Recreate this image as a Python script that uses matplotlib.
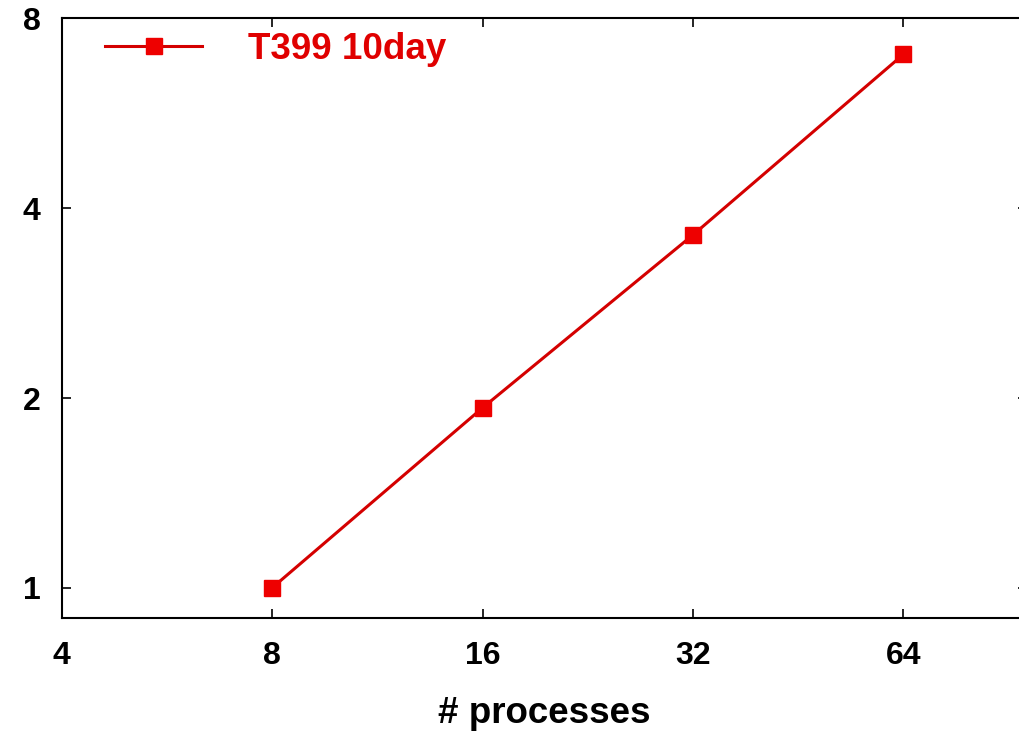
import matplotlib.pyplot as plt
from matplotlib.ticker import FixedLocator, FixedFormatter, NullLocator

# Data
processes = [8, 16, 32, 64]
speedup = [1.0, 1.93, 3.63, 7.02]
series_label = 'T399 10day'

x_ticks = [4, 8, 16, 32, 64]
y_ticks = [1, 2, 4, 8]

plt.rcParams['font.family'] = ['Liberation Sans', 'DejaVu Sans']
plt.rcParams['font.weight'] = 'bold'

fig = plt.figure(figsize=(10.2, 7.31), dpi=100)
ax = fig.add_axes([0.0603, 0.155, 0.9462, 0.8197])

ax.plot(processes, speedup, color='#d40000', linewidth=2.2,
        marker='s', markersize=11, markerfacecolor='#ee0000',
        markeredgecolor='#ee0000', label=series_label)

ax.set_xscale('log', base=2)
ax.set_yscale('log', base=2)
ax.set_xlim(4, 96)
ax.set_ylim(0.897, 8)

ax.xaxis.set_major_locator(FixedLocator(x_ticks))
ax.xaxis.set_major_formatter(FixedFormatter([str(t) for t in x_ticks]))
ax.yaxis.set_major_locator(FixedLocator(y_ticks))
ax.yaxis.set_major_formatter(FixedFormatter([str(t) for t in y_ticks]))
ax.xaxis.set_minor_locator(NullLocator())
ax.yaxis.set_minor_locator(NullLocator())

ax.tick_params(which='major', direction='in', length=6.5, width=1.2,
               top=True, right=True, labelsize=23)
ax.tick_params(axis='x', pad=17)
ax.tick_params(axis='y', pad=15)
for s in ax.spines.values():
    s.set_linewidth(1.5)

ax.set_xlabel('# processes', fontsize=26.5, fontweight='bold', labelpad=18)

leg = ax.legend(loc='upper left', bbox_to_anchor=(0.045, 0.978), frameon=False,
                fontsize=26.5, handlelength=2.64, handletextpad=1.25,
                borderpad=0, borderaxespad=0, labelcolor='#e00000')

fig.savefig('out.png', dpi=100)
